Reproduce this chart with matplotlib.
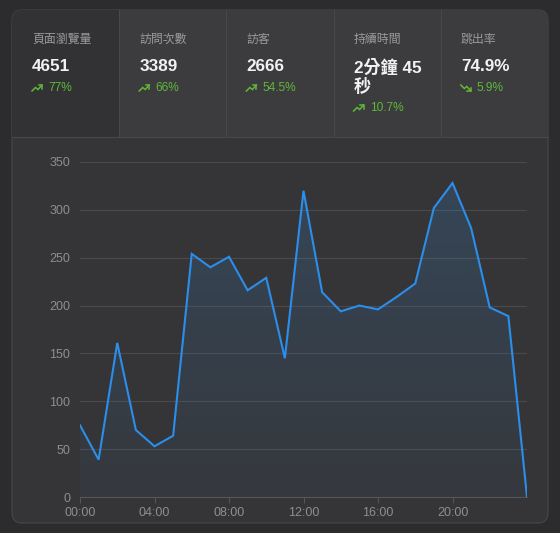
import numpy as np
import matplotlib.pyplot as plt
from matplotlib.patches import FancyBboxPatch, Rectangle
from matplotlib.colors import to_rgb

plt.rcParams['font.family'] = ['Liberation Sans', 'Noto Sans CJK TC', 'DejaVu Sans']

# hourly page views
hours = list(range(25))
views = [75, 39, 161, 70, 53, 64, 254, 240, 251, 216, 229, 145, 320,
         214, 194, 200, 196, 209, 223, 302, 328, 281, 198, 189, 0]
tick_hours = [0, 4, 8, 12, 16, 20]
tick_labels = ['00:00', '04:00', '08:00', '12:00', '16:00', '20:00']
y_ticks = [0, 50, 100, 150, 200, 250, 300, 350]

# summary cards
card_titles = ['頁面瀏覽量', '訪問次數', '訪客', '持續時間', '跳出率']
card_values = ['4651', '3389', '2666', '2分鐘 45\n秒', '74.9%']
card_changes = ['77%', '66%', '54.5%', '10.7%', '5.9%']
card_up = [True, True, True, True, False]

W, H = 560, 533
fig = plt.figure(figsize=(W / 100, H / 100), dpi=100)
fig.patch.set_facecolor('#2c2c2e')

# background layer in pixel coords
bg = fig.add_axes([0, 0, 1, 1])
bg.set_xlim(0, W)
bg.set_ylim(H, 0)
bg.axis('off')

border = '#48484a'
bg.add_patch(FancyBboxPatch((12, 10), 536, 513, boxstyle='round,pad=0,rounding_size=10',
                            fc='#353537', ec=border, lw=0.8))
card_w = 107.2
for i in range(5):
    x0 = 12 + i * card_w
    fc = '#323234' if i == 0 else '#3c3c3e'
    if i in (0, 4):
        bg.add_patch(FancyBboxPatch((x0, 10), card_w, 127, boxstyle='round,pad=0,rounding_size=10',
                                    fc=fc, ec='none'))
        # square off the other corners
        bg.add_patch(Rectangle((x0, 60), card_w, 77, fc=fc, ec='none'))
        if i == 0:
            bg.add_patch(Rectangle((x0 + 20, 10), card_w - 20, 50, fc=fc, ec='none'))
        else:
            bg.add_patch(Rectangle((x0, 10), card_w - 20, 50, fc=fc, ec='none'))
    else:
        bg.add_patch(Rectangle((x0, 10), card_w, 127, fc=fc, ec='none'))
    if i > 0:
        bg.plot([x0, x0], [10, 137], color=border, lw=0.8)

    tx = x0 + 20
    bg.text(tx, 40, card_titles[i], color='#9a9a9c', fontsize=8.6, va='center', ha='left')
    val = card_values[i]
    bg.text(tx, 59, val, color='#f2f2f2', fontsize=12.3, fontweight='bold',
            va='top', ha='left', linespacing=1.15)
    cy = 88 + 20 * val.count('\n')
    green = '#5fb83a'
    if card_up[i]:
        ys = [cy + 3, cy - 0.5, cy + 1.5, cy - 3]
        head = [cy - 3, cy - 3, cy + 0.5]
    else:
        ys = [cy - 3, cy + 0.5, cy - 1.5, cy + 3]
        head = [cy + 3, cy + 3, cy - 0.5]
    bg.plot([tx, tx + 3.5, tx + 6, tx + 10], ys, color=green, lw=1.1, solid_joinstyle='miter')
    bg.plot([tx + 6.5, tx + 10, tx + 10], head, color=green, lw=1.1)
    bg.text(tx + 16, cy, card_changes[i], color=green, fontsize=8.6, va='center', ha='left')

bg.plot([12, 548], [137, 137], color=border, lw=0.8)

# chart
ax = fig.add_axes([80 / W, (H - 497) / H, 447 / W, 335 / H])
ax.set_facecolor('none')

# vertical gradient under the line
blue = to_rgb('#3a8fe0')
grad = np.zeros((256, 1, 4))
grad[:, 0, :3] = blue
grad[:, 0, 3] = np.linspace(0.04, 0.2, 256)
area = ax.fill_between(hours, views, 0, facecolor='none', lw=0)
im = ax.imshow(grad, extent=[0, 24, 0, 350], aspect='auto', origin='lower', zorder=1)
im.set_clip_path(area.get_paths()[0], transform=ax.transData)

ax.plot(hours, views, color='#2b8eea', lw=1.5, solid_joinstyle='miter', zorder=3)
ax.set_xlim(0, 24)
ax.set_ylim(0, 350)
ax.set_yticks(y_ticks)
ax.set_xticks(tick_hours)
ax.set_xticklabels(tick_labels)
ax.grid(axis='y', color='#4a4a4c', lw=0.8)
ax.set_axisbelow(True)
for s in ['top', 'right', 'left']:
    ax.spines[s].set_visible(False)
ax.spines['bottom'].set_color('#555557')
ax.tick_params(axis='y', length=0, pad=7, colors='#8e8e90', labelsize=9)
ax.tick_params(axis='x', length=4, width=0.8, color='#555557', pad=3,
               labelcolor='#8e8e90', labelsize=9)

fig.savefig('out.png', dpi=100, facecolor=fig.get_facecolor())
